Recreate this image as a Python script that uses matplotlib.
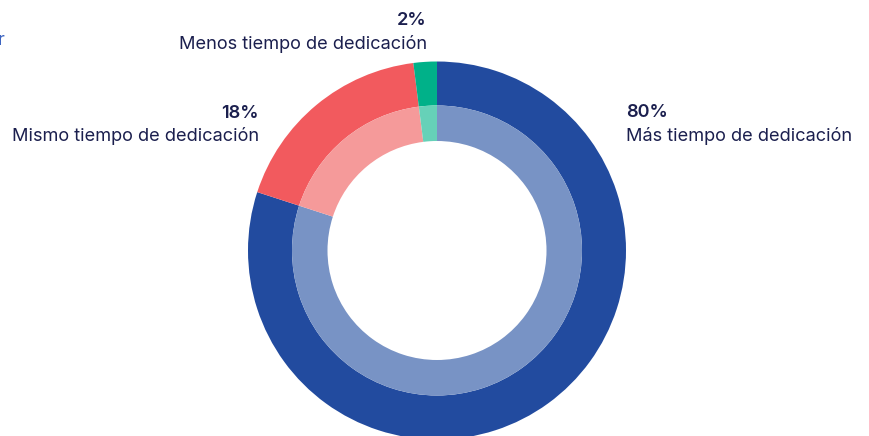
import matplotlib.pyplot as plt

# data
categories = ['Más tiempo de dedicación', 'Mismo tiempo de dedicación', 'Menos tiempo de dedicación']
values = [80, 18, 2]
pct_labels = ['80%', '18%', '2%']

outer_colors = ['#224b9f', '#f25a5e', '#00b189']
inner_colors = ['#7893c5', '#f59a9a', '#66d1b8']
text_color = '#1b1f4e'

W, H = 869, 436
fig = plt.figure(figsize=(W / 100, H / 100), dpi=100)
ax = fig.add_axes([0, 0, 1, 1])

cx, cy = 437, H - 250.5
r_out, r_mid, r_in = 189, 145, 109.5

ax.pie(values, colors=outer_colors, startangle=90, counterclock=False,
       center=(cx, cy), radius=r_out,
       wedgeprops={'width': r_out - r_mid, 'linewidth': 0})
ax.pie(values, colors=inner_colors, startangle=90, counterclock=False,
       center=(cx, cy), radius=r_mid,
       wedgeprops={'width': r_mid - r_in, 'linewidth': 0})

ax.set_xlim(0, W)
ax.set_ylim(0, H)
ax.set_aspect('equal')
ax.axis('off')

font = 'Inter'
fs = 13.1
# (x, baseline of pct, baseline of label, alignment) in pixel coords from top
placements = [(626, 117, 141, 'left'), (259, 118, 141, 'right'), (427, 25, 49, 'right')]
for cat, pct, (x, yp, yl, ha) in zip(categories, pct_labels, placements):
    ax.text(x, H - yp, pct, ha=ha, va='baseline', fontsize=fs, fontweight='semibold',
            color=text_color, family=font)
    ax.text(x, H - yl, cat, ha=ha, va='baseline', fontsize=fs,
            color=text_color, family=font)

# fragment of cut-off text at the left edge
ax.text(-2, H - 45, 'r', ha='left', va='baseline', fontsize=fs, color='#3a62c0', family=font)

fig.savefig('out.png', dpi=100)
